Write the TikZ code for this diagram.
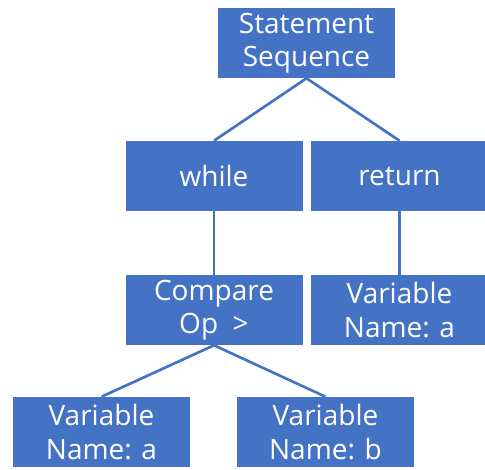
\documentclass[tikz,border=0pt]{standalone}
\usepackage{fontspec}
\setmainfont{Open Sans}
\definecolor{boxblue}{HTML}{4472C4}
\tikzset{
  astnode/.style={fill=boxblue, text=white, inner sep=0pt,
    minimum width=132.75pt, minimum height=52.5pt, align=center,
    font=\fontsize{21}{25}\selectfont},
  branch/.style={boxblue, line width=2pt}
}
\begin{document}
\begin{tikzpicture}[x=0.75pt, y=-0.75pt]
\useasboundingbox (0,0) rectangle (485,469);

% root of the tree
\node[astnode] (seq) at (306.5,43) {Statement\\Sequence};

% statements
\node[astnode] (while) at (214,176) {while};
\node[astnode] (ret) at (399.5,176) {return};

% operands
\node[astnode] (cmp) at (214,310) {Compare\\Op~\ >};
\node[astnode] (vara) at (399.5,310) {Variable\\Name: a};

% leaves of the compare
\node[astnode] (lefta) at (101.5,432) {Variable\\Name: a};
\node[astnode] (rightb) at (325.5,432) {Variable\\Name: b};

% edges
\draw[branch] (seq.south) -- (while.north);
\draw[branch] (seq.south) -- (ret.north);
\draw[branch] (while.south) -- (cmp.north);
\draw[branch] (ret.south) -- (vara.north);
\draw[branch] (cmp.south) -- (lefta.north);
\draw[branch] (cmp.south) -- (rightb.north);
\end{tikzpicture}
\end{document}
